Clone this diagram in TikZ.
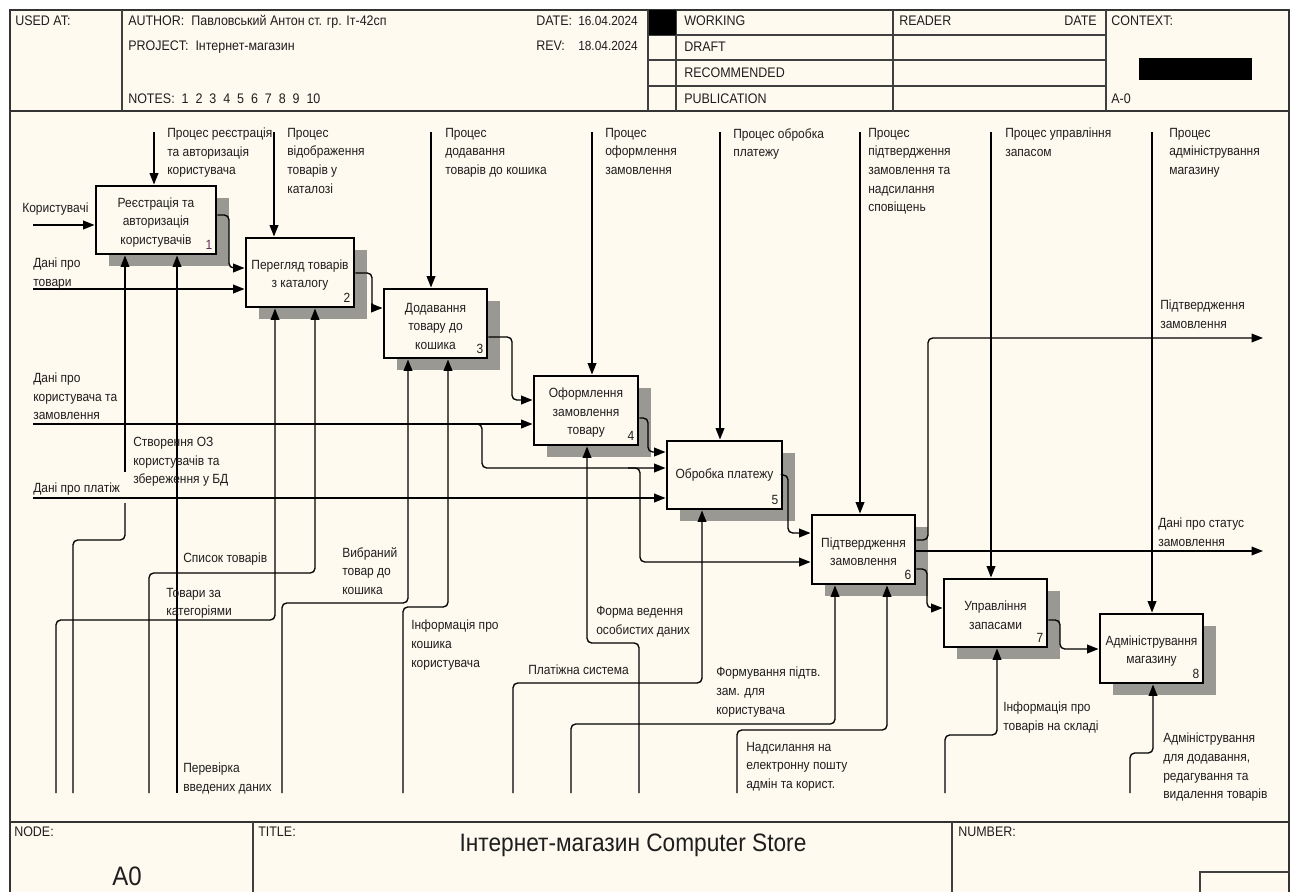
\documentclass[tikz,border=0pt]{standalone}
\usepackage{fontspec}
\setmainfont[FakeStretch=0.9]{Liberation Sans}
\usetikzlibrary{arrows.meta,shadows}
\definecolor{bg}{HTML}{FFFAEF}
\definecolor{txt}{HTML}{1E1E1E}
\definecolor{shad}{HTML}{9A9892}
\definecolor{numone}{HTML}{5E2A5E}
\newcommand\fs{\fontsize{10pt}{13.9pt}\selectfont}
\newcommand\fhead{\fontsize{10.4pt}{12pt}\selectfont}
\newcommand\fdate{\fontsize{9.9pt}{12pt}\selectfont}
\newcommand\tp{\rule{0pt}{10.8pt}}
\begin{document}
\begin{tikzpicture}[x=0.75pt,y=-0.75pt,
  lbl/.style={anchor=north west, inner sep=0pt, align=left, font=\fs, text=txt},
  hdr/.style={anchor=base west, inner sep=0pt, font=\fhead, text=txt},
  box/.style={draw=black, line width=2.2pt, fill=bg, align=center, font=\fs, text=txt, inner sep=0pt,
     drop shadow={shadow xshift=9.4pt, shadow yshift=-9pt, fill=shad, opacity=1}},
  num/.style={anchor=base east, inner sep=0pt, font=\fs, text=txt},
  ln/.style={line width=1pt, draw=black, rounded corners=3.5pt},
  arr/.style={ln, -{Triangle[length=8.5pt,width=6.5pt]}},
  frame/.style={line width=1.5pt, draw=black!80},
  thin/.style={line width=0.9pt, draw=black!75},
]
\useasboundingbox (0,0) rectangle (1292,892);
\fill[white] (0,0) rectangle (1292,892);
\fill[bg] (10,10) rectangle (1289,892);

% ---------- frame ----------
\draw[frame] (10,892) -- (10,10) -- (1289,10) -- (1289,892);
\draw[frame] (10,111) -- (1289,111);
\draw[frame] (10,822) -- (1289,822);
\foreach \xx in {122,648,676,893,1106} \draw[thin] (\xx,10) -- (\xx,111);
\foreach \yy in {35,60,86} \draw[thin] (648,\yy) -- (1106,\yy);
\fill[black] (649,10) rectangle (676,35);
\fill[black] (1139,58) rectangle (1252,80);
\draw[thin] (253,822) -- (253,892);
\draw[thin] (952,822) -- (952,892);
\draw[thin] (1200,892) -- (1200,872) -- (1289,872);

% ---------- header text ----------
\node[hdr] (h1) at (15,25.5) {USED AT:};
\node[hdr] (h2) at (128,25.5) {AUTHOR:\ \ Павловський Антон ст. гр. Іт-42сп};
\node[hdr] (h3) at (128,50.5) {PROJECT:\ \ Інтернет-магазин};
\node[hdr] (h4) at (128,103.5) {NOTES:\ \ 1\ \ 2\ \ 3\ \ 4\ \ 5\ \ 6\ \ 7\ \ 8\ \ 9\ \ 10};
\node[hdr] (h5) at (536,25.5) {DATE:};
\node[hdr,font=\fdate,anchor=base east] (h6) at (638,25.5) {16.04.2024};
\node[hdr] (h7) at (536,50.5) {REV:};
\node[hdr,font=\fdate,anchor=base east] (h8) at (638,50.5) {18.04.2024};
\node[hdr] (h9) at (684,25.5) {WORKING};
\node[hdr] (h10) at (684,51.5) {DRAFT};
\node[hdr] (h11) at (684,77.5) {RECOMMENDED};
\node[hdr] (h12) at (684,103.5) {PUBLICATION};
\node[hdr] (h13) at (899,25.5) {READER};
\node[hdr,anchor=base east] (h14) at (1097,25.5) {DATE};
\node[hdr] (h15) at (1111,25.5) {CONTEXT:};
\node[hdr] (h16) at (1111,103.5) {A-0};

% ---------- footer text ----------
\node[hdr] (f1) at (14,836) {NODE:};
\node[hdr] (f2) at (258,836) {TITLE:};
\node[hdr] (f3) at (958,836) {NUMBER:};
\node[anchor=base, inner sep=0pt, font=\fontsize{20pt}{22pt}\selectfont, text=txt] (f4) at (127,885) {A0};
\node[anchor=base, inner sep=0pt, font=\fontsize{18.9pt}{22pt}\selectfont, text=txt] (f5) at (633,851) {Інтернет-магазин Computer Store};

% ---------- boxes ----------
\node[box, minimum width=90pt, minimum height=51pt] (b1) at (156,220) {\tp Реєстрація та\\авторизація\\користувачів};
\node[box, minimum width=81pt, minimum height=51.75pt] (b2) at (300,272.5) {\tp Перегляд товарів\\з каталогу};
\node[box, minimum width=77.25pt, minimum height=51.75pt] (b3) at (435.5,323.5) {\tp Додавання\\товару до\\кошика};
\node[box, minimum width=78pt, minimum height=51.75pt] (b4) at (586,410.5) {\tp Оформлення\\замовлення\\товару};
\node[box, minimum width=86.25pt, minimum height=51pt] (b5) at (724.5,475) {Обробка платежу};
\node[box, minimum width=77.25pt, minimum height=51.75pt] (b6) at (863.5,549.5) {\tp Підтвердження\\замовлення};
\node[box, minimum width=77.25pt, minimum height=51pt] (b7) at (995.5,613) {\tp Управління\\запасами};
\node[box, minimum width=77.25pt, minimum height=51.75pt] (b8) at (1151.5,648.5) {\tp Адміністрування\\магазину};
\node[num, text=numone] (n1) at ([xshift=-3.75pt,yshift=4.6pt]b1.south east) {1};
\foreach \b/\n in {b2/2,b3/3,b4/4,b5/5,b6/6,b7/7,b8/8}
  \node[num] (n\n) at ([xshift=-3.75pt,yshift=4.6pt]\b.south east) {\n};

% ---------- free ends ----------
\coordinate (i1) at (33,225);
\coordinate (i2) at (33,289);
\coordinate (i3) at (33,424);
\coordinate (i4) at (33,498);
\coordinate (o1) at (1263,338);
\coordinate (o2) at (1263,551);
\foreach \k/\xx in {1/154,2/274,3/431,4/592,5/720,6/860,7/991,8/1152}
  \coordinate (c\k) at (\xx,132);
\foreach \k/\xx in {1a/73,1b/177,2a/56,2b/149,3a/282,3b/403,4/639,5/513,6a/571,6b/737,7/945,8/1130}
  \coordinate (m\k) at (\xx,793);

% ---------- inputs ----------
\draw[arr] (i1) -- (b1.west |- i1);
\draw[arr] (i2) -- (b2.west |- i2);
\draw[arr] (i3) -- (b4.west |- i3);
\draw[arr] (470,424) -- (482,424) -- (482,468) -- (b5.west |- 0,468);
\draw[arr] (628,468) -- (640,468) -- (640,562) -- (b6.west |- 0,562);
\draw[arr] (i4) -- (b5.west |- i4);

% ---------- box to box ----------
\draw[arr] (b1.east |- 0,215) -- (229,215) -- (229,268) -- (b2.west |- 0,268);
\draw[arr] (b2.east |- 0,273) -- (372,273) -- (372,308) -- (b3.west |- 0,308);
\draw[arr] (b3.east |- 0,337) -- (512,337) -- (512,400) -- (b4.west |- 0,400);
\draw[arr] (b4.east |- 0,418) -- (648,418) -- (648,452) -- (b5.west |- 0,452);
\draw[arr] (b5.east |- 0,475) -- (788,475) -- (788,533) -- (b6.west |- 0,533);
\draw[arr] (b6.east |- 0,569) -- (927,569) -- (927,608) -- (b7.west |- 0,608);
\draw[arr] (b7.east |- 0,620) -- (1060,620) -- (1060,649) -- (b8.west |- 0,649);

% ---------- outputs ----------
\draw[arr] (b6.east |- 0,540) -- (928,540) -- (928,338) -- (o1);
\draw[arr] (b6.east |- 0,551) -- (o2);

% ---------- controls ----------
\draw[arr] (c1) -- (b1.north -| c1);
\draw[arr] (c2) -- (b2.north -| c2);
\draw[arr] (c3) -- (b3.north -| c3);
\draw[arr] (c4) -- (b4.north -| c4);
\draw[arr] (c5) -- (b5.north -| c5);
\draw[arr] (c6) -- (b6.north -| c6);
\draw[arr] (c7) -- (b7.north -| c7);
\draw[arr] (c8) -- (b8.north -| c8);

% ---------- mechanisms ----------
\draw[ln] (m1a) -- (73,540) -- (125,540) -- (125,503);
\draw[arr] (125,472) -- (b1.south -| 125,0);
\draw[arr] (m1b) -- (b1.south -| m1b);
\draw[arr] (m2a) -- (56,620) -- (275,620) -- (b2.south -| 275,0);
\draw[arr] (m2b) -- (149,573) -- (315,573) -- (b2.south -| 315,0);
\draw[arr] (m3a) -- (282,603) -- (408,603) -- (b3.south -| 408,0);
\draw[arr] (m3b) -- (403,607) -- (448,607) -- (b3.south -| 448,0);
\draw[arr] (m4) -- (639,643) -- (587,643) -- (b4.south -| 587,0);
\draw[arr] (m5) -- (513,683) -- (702,683) -- (b5.south -| 702,0);
\draw[arr] (m6a) -- (571,724) -- (835,724) -- (b6.south -| 835,0);
\draw[arr] (m6b) -- (737,730) -- (887,730) -- (b6.south -| 887,0);
\draw[arr] (m7) -- (945,735) -- (997,735) -- (b7.south -| 997,0);
\draw[arr] (m8) -- (1130,753) -- (1153,753) -- (b8.south -| 1153,0);

% ---------- labels (north west = first line centre - 5) ----------
\node[lbl] (li1) at (22,203) {Користувачі};
\node[lbl] (li2) at (33,258) {Дані про\\товари};
\node[lbl] (li3) at (33,373) {Дані про\\користувача та\\замовлення};
\node[lbl] (li4) at (33,483) {Дані про платіж};
\node[lbl] (lo1) at (1160,300) {Підтвердження\\замовлення};
\node[lbl] (lo2) at (1158,518) {Дані про статус\\замовлення};
\node[lbl] (lc1) at (167,128) {Процес реєстрація\\та авторизація\\користувача};
\node[lbl] (lc2) at (287,128) {Процес\\відображення\\товарів у\\каталозі};
\node[lbl] (lc3) at (445,128) {Процес\\додавання\\товарів до кошика};
\node[lbl] (lc4) at (605,128) {Процес\\оформлення\\замовлення};
\node[lbl] (lc5) at (733,128) {Процес обробка\\платежу};
\node[lbl] (lc6) at (868,128) {Процес\\підтвердження\\замовлення та\\надсилання\\сповіщень};
\node[lbl] (lc7) at (1005,128) {Процес управління\\запасом};
\node[lbl] (lc8) at (1169,128) {Процес\\адміністрування\\магазину};
\node[lbl] (lm1a) at (133,437) {Створення ОЗ\\користувачів та\\збереження у БД};
\node[lbl] (lm1b) at (183,763) {Перевірка\\введених даних};
\node[lbl] (lm2a) at (166,588) {Товари за\\категоріями};
\node[lbl] (lm2b) at (183,553) {Список товарів};
\node[lbl] (lm3a) at (342,547) {Вибраний\\товар до\\кошика};
\node[lbl] (lm3b) at (411,620) {Інформація про\\кошика\\користувача};
\node[lbl] (lm4) at (596,606) {Форма ведення\\особистих даних};
\node[lbl] (lm5) at (528,665) {Платіжна система};
\node[lbl] (lm6a) at (716,667) {Формування підтв.\\зам. для\\користувача};
\node[lbl] (lm6b) at (746,742) {Надсилання на\\електронну пошту\\адмін та корист.};
\node[lbl] (lm7) at (1003,702) {Інформація про\\товарів на складі};
\node[lbl] (lm8) at (1163,733) {Адміністрування\\для додавання,\\редагування та\\видалення товарів};
\end{tikzpicture}
\end{document}
